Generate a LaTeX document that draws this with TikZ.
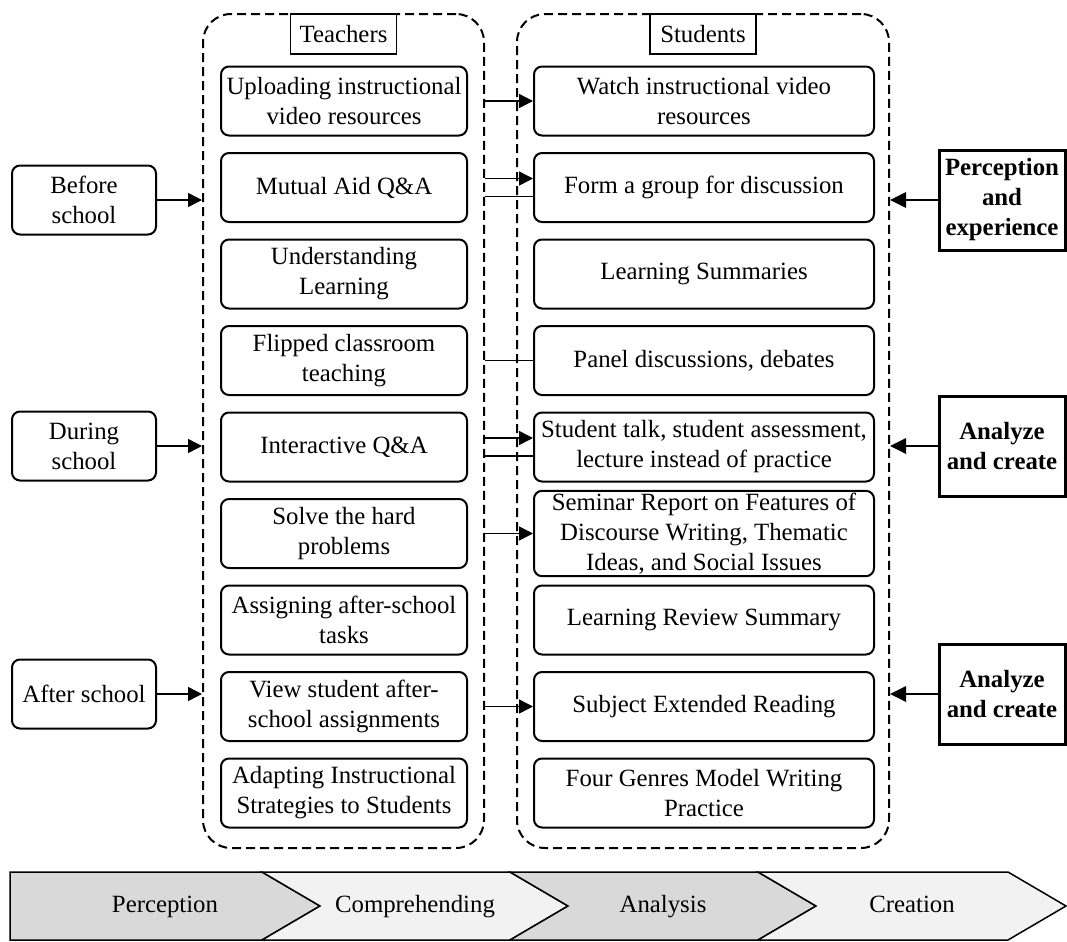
\documentclass[tikz,border=0pt]{standalone}
\usepackage{fontspec}
\setmainfont{Liberation Serif}
\usepackage{tikz}
\usetikzlibrary{arrows.meta,shapes}
\definecolor{chevdark}{RGB}{217,217,217}
\definecolor{chevlight}{RGB}{242,242,242}

\begin{document}
\begin{tikzpicture}[>={Triangle[length=7pt,width=7pt]},x=0.5pt,y=-0.5pt,node distance=43.25pt,line width=0.75pt,font=\fontsize{12.4}{15}\selectfont]
 \tikzstyle{colbox}=[draw,rounded corners=14pt,dash pattern=on 4.5pt off 2.5pt,line width=1pt,minimum height=417pt,inner sep=0pt]
 \tikzstyle{titlebox}=[draw,fill=white,line width=0.8pt,minimum width=53pt,minimum height=20pt,inner xsep=4pt,anchor=north]
 \tikzstyle{tbox}=[draw,rounded corners=4pt,line width=1pt,minimum width=123pt,minimum height=34.5pt,align=center,inner sep=1pt]
 \tikzstyle{sbox}=[tbox,minimum width=170pt]
 \tikzstyle{stage}=[tbox,minimum width=72pt]
 \tikzstyle{goal}=[draw,line width=1.5pt,minimum width=63pt,minimum height=50pt,align=center,inner sep=1pt,font=\bfseries\fontsize{12.4}{15}\selectfont]
 \tikzstyle{chevlabel}=[text height=8.5pt,text depth=2.5pt]
 \useasboundingbox (0,0) rectangle (1067,942);

   \node[colbox,minimum width=140.5pt] (tcol) at (343.5,431) {};
   \node[colbox,minimum width=186pt] (scol) at (703,431) {};
   \node[titlebox] (ttl) at (tcol.north) {Teachers};
   \node[titlebox] (stl) at (scol.north) {Students};

   \node[tbox] (t1) at (344,101) {Uploading instructional\\video resources};
   \node[tbox] (t2) [below of = t1] {Mutual Aid Q\&A};
   \node[tbox] (t3) [below of = t2] {Understanding\\Learning};
   \node[tbox] (t4) [below of = t3] {Flipped classroom\\teaching};
   \node[tbox] (t5) [below of = t4] {Interactive Q\&A};
   \node[tbox] (t6) [below of = t5] {Solve the hard\\problems};
   \node[tbox] (t7) [below of = t6] {Assigning after-school\\tasks};
   \node[tbox] (t8) [below of = t7] {View student after-\\school assignments};
   \node[tbox] (t9) [below of = t8] {Adapting Instructional\\Strategies to Students};

   \node[sbox,node distance=180pt] (s1) [right of = t1] {Watch instructional video\\resources};
   \node[sbox] (s2) [below of = s1] {Form a group for discussion};
   \node[sbox] (s3) [below of = s2] {Learning Summaries};
   \node[sbox] (s4) [below of = s3] {Panel discussions, debates};
   \node[sbox] (s5) [below of = s4] {Student talk, student assessment,\\lecture instead of practice};
   \node[sbox] (s6) [below of = s5] {Seminar Report on Features of\\Discourse Writing, Thematic\\Ideas, and Social Issues};
   \node[sbox] (s7) [below of = s6] {Learning Review Summary};
   \node[sbox] (s8) [below of = s7] {Subject Extended Reading};
   \node[sbox] (s9) [below of = s8] {Four Genres Model Writing\\Practice};

   \node[stage] (before) at (84,200) {Before\\school};
   \node[stage] (during) at (84,446) {During\\school};
   \node[stage] (after) at (84,694) {After school};

   \node[goal] (perc) at (1002,200) {Perception\\and\\experience};
   \node[goal] (anc1) at (1002,446) {Analyze\\and create};
   \node[goal] (anc2) at (1002,694) {Analyze\\and create};

   \coordinate (s2a) at ([yshift=4.5pt]s2.west);
   \coordinate (s2b) at ([yshift=-4.5pt]s2.west);
   \coordinate (s5a) at ([yshift=4.5pt]s5.west);
   \coordinate (s5b) at ([yshift=-4.5pt]s5.west);

     \path[->]
    (tcol.east |- s1.west) edge (s1.west)
    (tcol.east |- s2a) edge (s2a)
    (tcol.east |- s5a) edge (s5a)
    (tcol.east |- s6.west) edge (s6.west)
    (tcol.east |- s8.west) edge (s8.west)
    (before) edge (tcol.west |- before.east)
    (during) edge (tcol.west |- during.east)
    (after) edge (tcol.west |- after.east);
     \path
    (tcol.east |- s2b) edge (s2b)
    (tcol.east |- s4.west) edge (s4.west)
    (tcol.east |- s5b) edge (s5b);
     \path[->,line width=1.4pt,>={Triangle[length=8pt,width=7.5pt]}]
    (perc) edge (scol.east |- perc.west)
    (anc1) edge (scol.east |- anc1.west)
    (anc2) edge (scol.east |- anc2.west);

   \foreach \xa/\xb/\nd/\fc/\txt/\nm in {10/262/0/chevdark/Perception/c1, 262/510/58/chevlight/Comprehending/c2, 510/758/58/chevdark/Analysis/c3, 758/1008/58/chevlight/Creation/c4}{
     \draw[fill=\fc] (\xa,872) -- (\xb,872) -- ({\xb+58},906) -- (\xb,940) -- (\xa,940) -- ({\xa+\nd},906) -- cycle;
     \node[chevlabel] (\nm) at ({(\xa+\xb)/2+29},906) {\txt};
   }
\end{tikzpicture}
\end{document}
